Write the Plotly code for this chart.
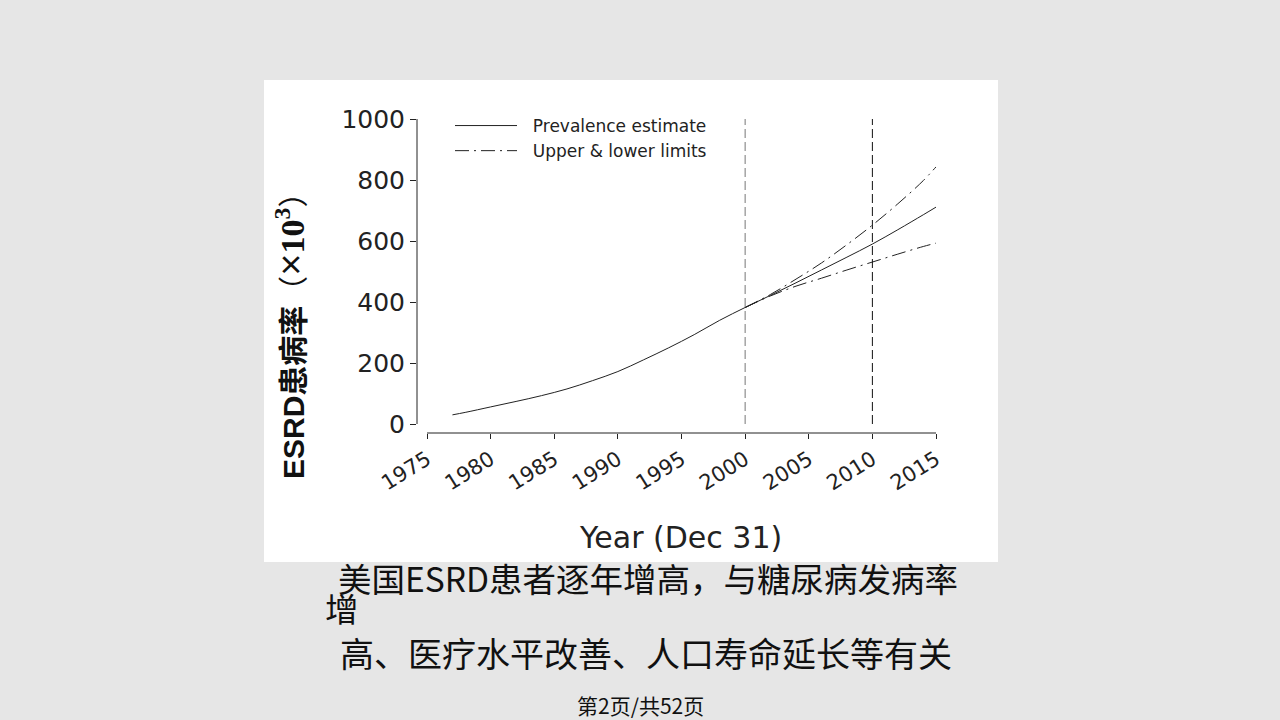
import plotly.graph_objects as go

# ---- data ----
years = [1977, 1978, 1980, 1982, 1984, 1986, 1988, 1990, 1992, 1994, 1996, 1998,
         2000, 2002, 2004, 2006, 2008, 2010, 2012, 2014, 2015]
prevalence = [30, 38, 56, 74, 93, 115, 142, 172, 210, 250, 293, 340,
              382, 422, 463, 505, 547, 590, 637, 686, 711]
proj_years = [2000, 2002, 2004, 2006, 2008, 2010, 2012, 2014, 2015]
upper = [382, 425, 475, 528, 588, 652, 722, 798, 843]
lower = [382, 420, 452, 478, 505, 531, 557, 582, 593]
ref_years = [2000, 2010]
ref_colors = ["#777777", "#111111"]
x_ticks = [1975, 1980, 1985, 1990, 1995, 2000, 2005, 2010, 2015]
y_ticks = [0, 200, 400, 600, 800, 1000]

# ---- layout geometry (pixels) ----
W, H = 1280, 720
L, R, T, B = 417, 936, 110, 433
px_per_year = (936 - 427) / 40.0
x_lo = 1975 - (427 - L) / px_per_year
px_per_unit = (424 - 119) / 1000.0
y_lo = -(B - 424) / px_per_unit
y_hi = 1000 + (119 - T) / px_per_unit

LATIN = "DejaVu Sans"
CJK = "Noto Sans CJK SC"


def px(xp):
    return (xp - L) / (R - L)


def py(yp):
    return (B - yp) / (B - T)


fig = go.Figure()

fig.add_trace(go.Scatter(x=years, y=prevalence, mode="lines", name="\u00a0\u00a0Prevalence estimate",
                         line=dict(color="#222222", width=1, shape="spline")))
fig.add_trace(go.Scatter(x=proj_years, y=upper, mode="lines", name="\u00a0\u00a0Upper & lower limits",
                         legendgroup="lim",
                         line=dict(color="#222222", width=1, shape="spline",
                                   dash="14px,5px,2px,5px")))
fig.add_trace(go.Scatter(x=proj_years, y=lower, mode="lines", name="Upper & lower limits",
                         legendgroup="lim", showlegend=False,
                         line=dict(color="#222222", width=1, shape="spline",
                                   dash="14px,5px,2px,5px")))

shapes = []
# white panel
shapes.append(dict(type="rect", xref="paper", yref="paper", layer="below",
                   x0=px(264), x1=px(998), y0=py(562), y1=py(80),
                   fillcolor="white", line=dict(width=0)))
# reference lines
for yr, c in zip(ref_years, ref_colors):
    shapes.append(dict(type="line", xref="x", yref="y", x0=yr, x1=yr,
                       y0=y_ticks[0], y1=y_ticks[-1],
                       line=dict(color=c, width=1, dash="9px,4px")))
# axis lines (detached)
shapes.append(dict(type="line", xref="paper", yref="y", x0=0, x1=0,
                   y0=y_ticks[0], y1=y_ticks[-1], line=dict(color="#222", width=1)))
shapes.append(dict(type="line", xref="x", yref="paper", x0=x_ticks[0], x1=x_ticks[-1],
                   y0=0, y1=0, line=dict(color="#222", width=1)))


def ann(text, xp, yp, size, family, color="#111", xanchor="center", **kw):
    return dict(text=text, xref="paper", yref="paper", x=px(xp), y=py(yp),
                xanchor=xanchor, yanchor="middle", showarrow=False,
                font=dict(family=family, size=size, color=color), **kw)


annotations = [
    ann("Year (Dec 31)", 680, 537, 30, LATIN, color="#222"),
    ann("<b>ESRD患病率</b>（<span style='font-size:38px'>×</span>"
        "<span style='font-family:Liberation Serif;font-size:34px'><b>10<sup>3</sup></b></span>）",
        290, 329, 30, "Liberation Sans, " + CJK, textangle=-90),
    ann("美国ESRD患者逐年增高，与糖尿病发病率", 336, 577, 33.5, CJK, xanchor="left"),
    ann("增", 323, 607, 33.5, CJK, xanchor="left"),
    ann("高、医疗水平改善、人口寿命延长等有关", 338, 652, 34, CJK, xanchor="left"),
    ann("第2页/共52页", 640, 705, 21, "Liberation Sans Narrow, " + CJK),
]

fig.update_layout(
    width=W, height=H,
    margin=dict(l=L, r=W - R, t=T, b=H - B, pad=0),
    paper_bgcolor="#e6e6e6", plot_bgcolor="rgba(0,0,0,0)",
    shapes=shapes, annotations=annotations,
    showlegend=True,
    legend=dict(x=px(450), y=py(108), xanchor="left", yanchor="top",
                bgcolor="rgba(0,0,0,0)", itemwidth=62,
                font=dict(family=LATIN, size=17, color="#222"),
                tracegroupgap=0),
    xaxis=dict(range=[x_lo, 2015], tickvals=x_ticks, ticktext=[str(v) for v in x_ticks],
               showgrid=False, zeroline=False, showline=False, ticks="outside",
               ticklen=5, tickcolor="#222", tickangle=-32,
               tickfont=dict(family=LATIN, size=21, color="#222")),
    yaxis=dict(range=[y_lo, y_hi], tickvals=y_ticks, showgrid=False, zeroline=False,
               showline=False, ticks="outside", ticklen=6, tickcolor="#222",
               tickfont=dict(family=LATIN, size=25, color="#222")),
)

fig.write_html("out.html")
